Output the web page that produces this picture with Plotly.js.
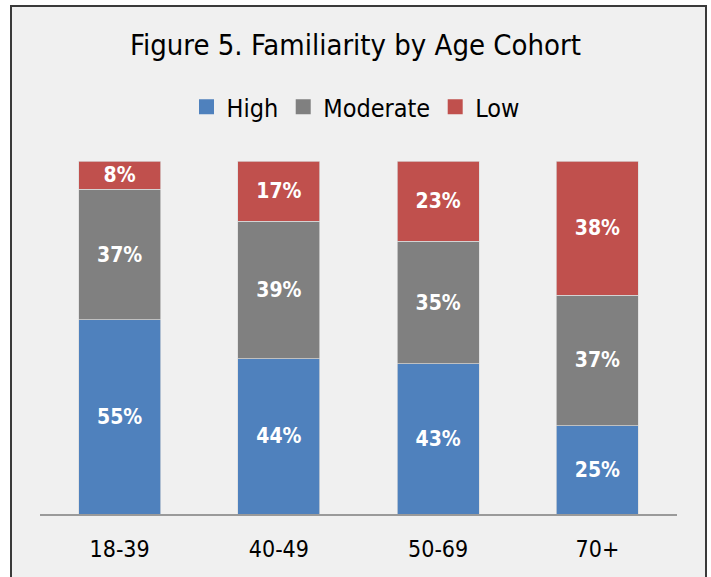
<!DOCTYPE html>
<html><head><meta charset="utf-8">
<script src="https://cdn.plot.ly/plotly-3.0.1.min.js"></script>
<style>
html,body{margin:0;padding:0;background:#fff;}
#wrap{position:relative;width:711px;height:577px;overflow:hidden;}
#box{position:absolute;left:10px;top:5px;width:693px;height:600px;border:2px solid #3a3a3a;background:#f0f0f0;}
#chart{position:absolute;left:0;top:0;width:711px;height:577px;}
</style></head>
<body>
<div id="wrap"><div id="box"></div><div id="chart"></div></div>
<script>
const categories = ["18-39", "40-49", "50-69", "70+"];
const high = [55, 44, 43, 25];
const moderate = [37, 39, 35, 37];
const low = [8, 17, 23, 38];
const seriesNames = ["High", "Moderate", "Low"];
const colors = ["#4f81bd", "#808080", "#c0504d"];

const FONT = '"DejaVu Sans Condensed", "Liberation Sans", sans-serif';
const vals = [high, moderate, low];
const traces = vals.map((v, i) => ({
  type: 'bar',
  name: seriesNames[i],
  x: categories,
  y: v,
  text: v.map(d => d + '%'),
  textposition: 'inside',
  insidetextanchor: 'middle',
  constraintext: 'none',
  textfont: {family: FONT, size: 21, color: '#ffffff', weight: 'bold'},
  marker: {color: colors[i], line: {color: '#dcdcdc', width: 0.7}},
  showlegend: false,
  hoverinfo: 'skip'
}));
seriesNames.forEach((n, i) => traces.push({
  type: 'scatter', mode: 'markers', name: n, x: [null], y: [null],
  marker: {symbol: 'square', size: 15, color: colors[i]}, showlegend: true, hoverinfo: 'skip'
}));

const layout = {
  width: 711, height: 577,
  barmode: 'stack',
  barnorm: 'percent',
  bargap: 0.485,
  paper_bgcolor: 'rgba(0,0,0,0)',
  plot_bgcolor: 'rgba(0,0,0,0)',
  margin: {l: 40, r: 34, t: 161, b: 63},
  title: {text: 'Figure 5. Familiarity by Age Cohort', font: {family: FONT, size: 29, color: '#000'},
          x: 0.5, xref: 'container', y: 1 - 45/577, yref: 'container', yanchor: 'middle', xanchor: 'center'},
  showlegend: true,
  legend: {orientation: 'h', x: 0.5, xref: 'container', xanchor: 'center', y: 1 - 107/577, yref: 'container', yanchor: 'middle',
           font: {family: FONT, size: 25, color: '#000'}, itemwidth: 30, traceorder: 'normal', bgcolor: 'rgba(0,0,0,0)'},
  xaxis: {type: 'category', showline: true, linecolor: '#9a9a9a', linewidth: 2, ticks: 'outside', ticklen: 13,
          tickcolor: 'rgba(0,0,0,0)', tickfont: {family: FONT, size: 23, color: '#000'}, showgrid: false, zeroline: false},
  yaxis: {range: [0, 100], visible: false, showgrid: false, zeroline: false}
};
Plotly.newPlot('chart', traces, layout, {displayModeBar: false, staticPlot: true});
</script>
</body></html>
